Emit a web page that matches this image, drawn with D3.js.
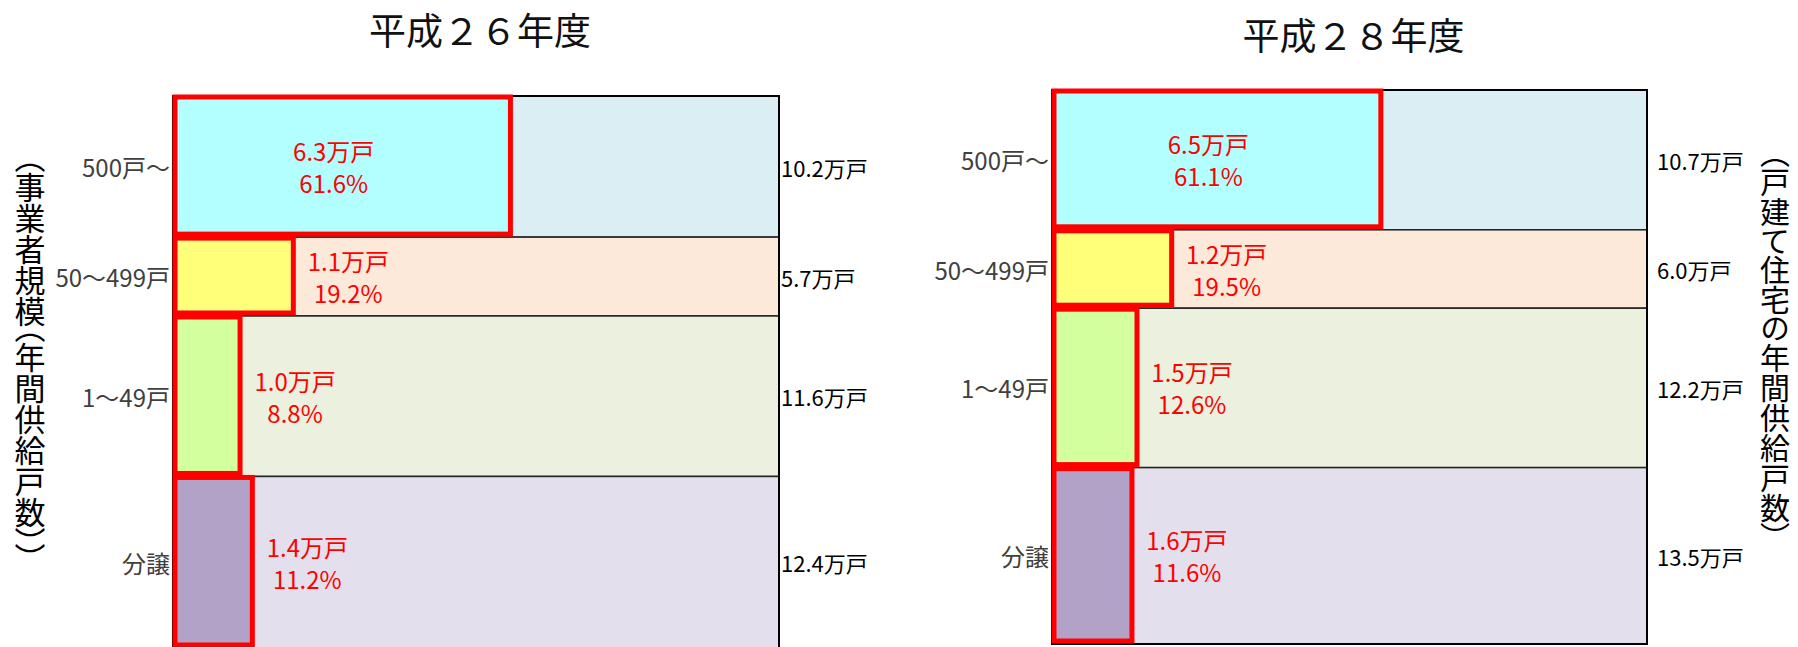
<!DOCTYPE html>
<html lang="ja">
<head>
<meta charset="UTF-8">
<title>事業者規模別 戸建て住宅供給戸数</title>
<script src="https://d3js.org/d3.v7.min.js"></script>
<style>
    body { margin: 0; background: #fff; }
    text { font-family: "Noto Sans CJK JP", "Noto Sans", sans-serif; }
    .vlabel { writing-mode: vertical-rl; text-orientation: mixed; font-feature-settings: "vpal" 1; }
</style>
</head>
<body>
<svg id="chart" width="1798" height="647"></svg>
<script>
    // data
    const categories = ["500戸～", "50～499戸", "1～49戸", "分譲"];
    const years = ["平成２６年度", "平成２８年度"];
    const totals26 = [10.2, 5.7, 11.6, 12.4];   // 万戸, whole row
    const totals28 = [10.7, 6.0, 12.2, 13.5];
    const major26 = [6.3, 1.1, 1.0, 1.4];       // 万戸, red boxes
    const major28 = [6.5, 1.2, 1.5, 1.6];
    const share26 = [61.6, 19.2, 8.8, 11.2];    // %
    const share28 = [61.1, 19.5, 12.6, 11.6];
    const leftTitle = "（事業者規模（年間供給戸数））";
    const rightTitle = "（戸建て住宅の年間供給戸数）";

    const outerColors = ["#DAEEF3", "#FDE9D9", "#EBF1DE", "#E4DFEC"];
    const innerColors = ["#B3FFFF", "#FFFF79", "#D4FF9F", "#B2A2C7"];

    const panels = [
        {title: years[0], totals: totals26, major: major26, share: share26,
         x0: 173, x1: 779, top: 96, bottom: 648, titleY: 45, totalGap: 2},
        {title: years[1], totals: totals28, major: major28, share: share28,
         x0: 1052, x1: 1647, top: 90, bottom: 644, titleY: 50, totalGap: 10}
    ];

    const svg = d3.select("#chart");

    panels.forEach(p => {
        const g = svg.append("g");
        const W = p.x1 - p.x0;
        const ends = d3.cumsum(p.totals);
        const rows = categories.map((c, i) => ({
            cat: c, total: p.totals[i], major: p.major[i], share: p.share[i],
            start: ends[i] - p.totals[i], end: ends[i], i: i
        }));

        const y = d3.scaleLinear().domain([0, d3.sum(p.totals)]).range([p.top, p.bottom]);
        const x = d3.scaleLinear().domain([0, 100]).range([0.033 * W, 0.878 * W]);

        // title
        g.append("text")
            .attr("x", (p.x0 + p.x1) / 2 + 4)
            .attr("y", p.titleY)
            .attr("text-anchor", "middle")
            .attr("font-size", 37)
            .attr("fill", "#111")
            .text(p.title);

        // whole rows
        g.selectAll("rect.row").data(rows).join("rect")
            .attr("class", "row")
            .attr("x", p.x0)
            .attr("y", d => y(d.start))
            .attr("width", W)
            .attr("height", d => y(d.end) - y(d.start))
            .attr("fill", d => outerColors[d.i])
            .attr("stroke", "#222")
            .attr("stroke-width", 1.5);

        g.append("rect")
            .attr("x", p.x0).attr("y", y(0))
            .attr("width", W).attr("height", y.range()[1] - y.range()[0])
            .attr("fill", "none")
            .attr("stroke", "#000")
            .attr("stroke-width", 2);

        // red boxes: share of the row
        g.selectAll("rect.major").data(rows).join("rect")
            .attr("class", "major")
            .attr("x", p.x0 + 2)
            .attr("y", d => y(d.start) + 1)
            .attr("width", d => x(d.share))
            .attr("height", d => y(d.end) - y(d.start) - 4)
            .attr("fill", d => innerColors[d.i])
            .attr("stroke", "#FF0000")
            .attr("stroke-width", 5);

        // red value labels
        const lab = g.selectAll("g.lab").data(rows).join("g")
            .attr("class", "lab")
            .attr("transform", d => {
                const w = x(d.share);
                const cx = w > 200 ? p.x0 + 2 + w / 2 - 9 : p.x0 + 2 + w + 55;
                return `translate(${cx},${(y(d.start) + y(d.end)) / 2})`;
            });
        lab.append("text")
            .attr("y", -16)
            .attr("text-anchor", "middle")
            .attr("dominant-baseline", "central")
            .attr("font-size", 24)
            .attr("fill", "#FF0000")
            .text(d => d.major.toFixed(1) + "万戸");
        lab.append("text")
            .attr("y", 16)
            .attr("text-anchor", "middle")
            .attr("dominant-baseline", "central")
            .attr("font-size", 24)
            .attr("fill", "#FF0000")
            .text(d => d.share.toFixed(1) + "%");

        // category labels
        g.selectAll("text.cat").data(rows).join("text")
            .attr("class", "cat")
            .attr("x", p.x0 - 3)
            .attr("y", d => (y(d.start) + y(d.end)) / 2)
            .attr("text-anchor", "end")
            .attr("dominant-baseline", "central")
            .attr("font-size", 24)
            .attr("fill", "#404040")
            .text(d => d.cat);

        // row totals
        g.selectAll("text.total").data(rows).join("text")
            .attr("class", "total")
            .attr("x", p.x1 + p.totalGap)
            .attr("y", d => (y(d.start) + y(d.end)) / 2)
            .attr("dominant-baseline", "central")
            .attr("font-size", 22)
            .attr("fill", "#000")
            .text(d => d.total.toFixed(1) + "万戸");
    });

    // vertical axis titles
    svg.append("text")
        .attr("class", "vlabel")
        .attr("x", 30).attr("y", 156)
        .attr("font-size", 31)
        .attr("fill", "#000")
        .text(leftTitle);
    svg.append("text")
        .attr("class", "vlabel")
        .attr("x", 1775).attr("y", 152)
        .attr("font-size", 30)
        .attr("fill", "#000")
        .text(rightTitle);
</script>
</body>
</html>
